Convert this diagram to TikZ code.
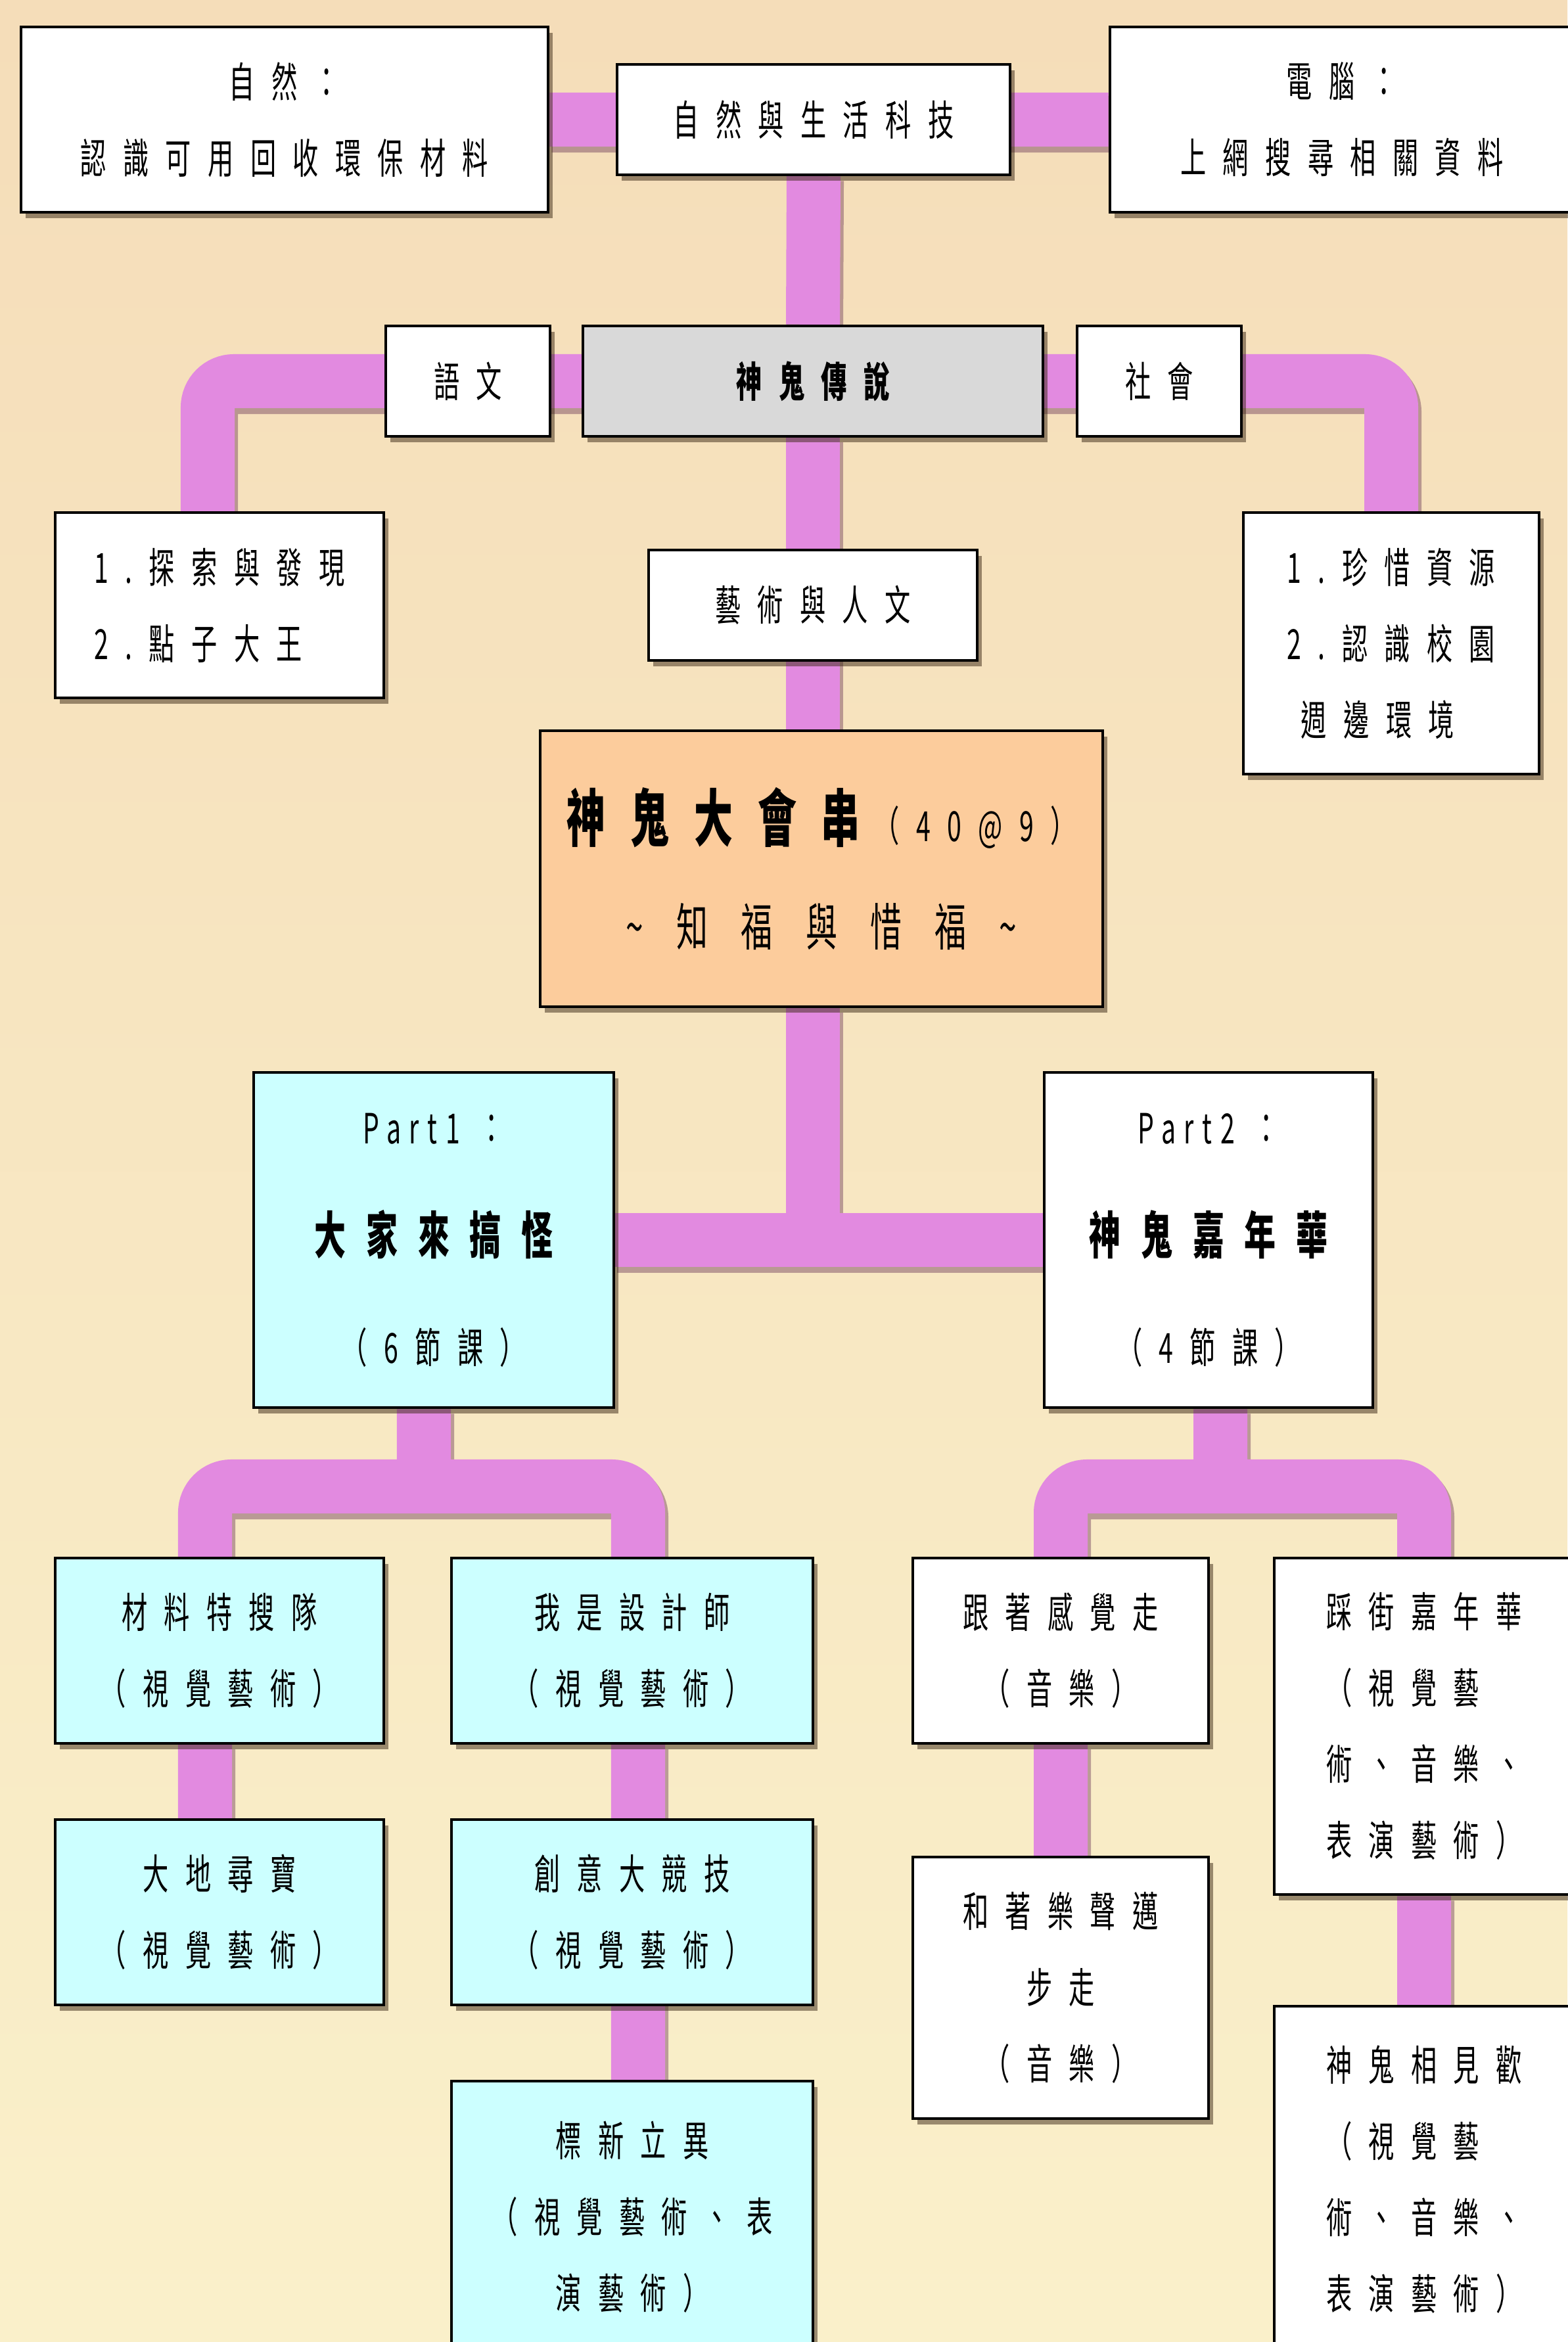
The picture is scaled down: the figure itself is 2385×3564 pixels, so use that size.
\documentclass[tikz,border=0pt]{standalone}
\usepackage{fontspec}
\newfontfamily\cjk[FakeStretch=0.62,LetterSpace=40]{Noto Sans CJK TC}
\usetikzlibrary{shadows}

\pgfdeclarelayer{back}
\pgfdeclarelayer{pipes}
\pgfsetlayers{back,pipes,main}

\definecolor{pipepink}{RGB}{226,138,224}
\definecolor{pipeedge}{RGB}{110,60,90}
\definecolor{boxcyan}{RGB}{204,255,255}
\definecolor{boxpeach}{RGB}{252,204,156}
\definecolor{boxgray}{RGB}{217,217,217}
\definecolor{bgtop}{RGB}{245,221,185}
\definecolor{bgbottom}{RGB}{250,240,202}

\tikzset{
  box/.style 2 args={draw, line width=1.2pt, fill=white, inner sep=0pt,
    minimum width=#1, minimum height=#2, align=center,
    font=\cjk\fontsize{18}{33}\selectfont,
    drop shadow={shadow xshift=0.07cm, shadow yshift=-0.09cm,
      fill=black!70!brown, opacity=0.5}},
  pipe/.style={draw=pipepink, line width=0.82cm, rounded corners=0.4cm,
    preaction={draw=pipeedge, opacity=0.45, line width=0.86cm,
      transform canvas={xshift=0.03cm, yshift=-0.07cm}}},
}

\begin{document}
\begin{tikzpicture}[x=0.01cm, y=-0.01cm]
	\useasboundingbox (0,0) rectangle (2385,3564);
	\begin{pgfonlayer}{back}
		\shade [top color=bgtop, bottom color=bgbottom] (0,0) rectangle (2385,3564);
	\end{pgfonlayer}

	% top row
	\node [box={8.02cm}{2.82cm}] (ziran) at (433,182) {自然：\\認識可用回收環保材料};
	\node [box={5.98cm}{1.68cm}] (keji) at (1238,182) {自然與生活科技};
	\node [box={7.06cm}{2.82cm}] (diannao) at (2042,182) {電腦：\\上網搜尋相關資料};

	% second row
	\node [box={2.5cm}{1.68cm}] (yuwen) at (712,580) {語文};
	\node [box={7cm}{1.68cm}, fill=boxgray] (chuanshuo) at (1237,580) {\bfseries 神鬼傳說};
	\node [box={2.5cm}{1.68cm}] (shehui) at (1764,580) {社會};

	\node [box={5cm}{2.82cm}, align=left] (tansuo) at (334,921) {1.探索與發現\\2.點子大王};
	\node [box={5cm}{1.68cm}] (yishu) at (1237,921) {藝術與人文};
	\node [box={4.5cm}{3.98cm}, align=left] (zhenxi) at (2117,979) {1.珍惜資源\\2.認識校園\\\hspace{6pt}週邊環境};

	% theme
	\node [box={8.55cm}{4.2cm}, fill=boxpeach] (main) at (1250,1322)
		{{\fontsize{27}{46}\selectfont\bfseries 神鬼大會串}\hspace{6pt}（40@9）\\[12pt]
		 {\fontsize{22}{40}\selectfont\addfontfeature{LetterSpace=65}\textasciitilde 知福與惜福\textasciitilde}};

	% parts
	\node [box={5.47cm}{5.1cm}, fill=boxcyan] (part1) at (660,1887)
		{{\addfontfeature{LetterSpace=20}Part1}\hspace{8pt}：\\[15pt]{\fontsize{22}{40}\selectfont\bfseries 大家來搞怪}\\[14pt]（6節課）};
	\node [box={5cm}{5.1cm}] (part2) at (1839,1887)
		{{\addfontfeature{LetterSpace=20}Part2}\hspace{8pt}：\\[15pt]{\fontsize{22}{40}\selectfont\bfseries 神鬼嘉年華}\\[14pt]（4節課）};

	% part 1 lessons
	\node [box={5cm}{2.82cm}, fill=boxcyan] (cailiao) at (334,2512) {材料特搜隊\\（視覺藝術）};
	\node [box={5.5cm}{2.82cm}, fill=boxcyan] (sheji) at (962,2512) {我是設計師\\（視覺藝術）};
	\node [box={5cm}{2.82cm}, fill=boxcyan] (dadi) at (334,2910) {大地尋寶\\（視覺藝術）};
	\node [box={5.5cm}{2.82cm}, fill=boxcyan] (chuangyi) at (962,2910) {創意大競技\\（視覺藝術）};
	\node [box={5.5cm}{4.14cm}, fill=boxcyan] (biaoxin) at (962,3374) {標新立異\\（視覺藝術、表\\演藝術）};

	% part 2 lessons
	\node [box={4.5cm}{2.82cm}] (ganjue) at (1614,2512) {跟著感覺走\\（音樂）};
	\node [box={4.5cm}{3.98cm}] (mabu) at (1614,3025) {和著樂聲邁\\步走\\（音樂）};
	\node [box={4.56cm}{5.12cm}, align=left] (caijie) at (2167,2627) {踩街嘉年華\\（視覺藝\\術、音樂、\\表演藝術）};
	\node [box={4.56cm}{5.28cm}, align=left] (xianjian) at (2167,3317) {神鬼相見歡\\（視覺藝\\術、音樂、\\表演藝術）};

	\coordinate (lbar) at (645,2262);
	\coordinate (rbar) at (1857,2262);

	\begin{pgfonlayer}{pipes}
		\draw [pipe] (ziran.east) -- (diannao.west) (keji.south) -- (chuanshuo.north);
		\draw [pipe] ([xshift=-0.18cm]tansuo.north) |- (yuwen.west) -- (shehui.east) -| (zhenxi.north);
		\draw [pipe] (chuanshuo.south) -- (chuanshuo.south |- main.north)
			(chuanshuo.south |- main.south) -- (chuanshuo.south |- part1.east)
			(part1.east) -- (part2.west);
		\draw [pipe] ([xshift=-0.22cm]cailiao.north) |- (lbar) -| ([xshift=0.09cm]sheji.north)
			(lbar) -- (lbar |- part1.south)
			([xshift=-0.22cm]cailiao.south) -- ([xshift=-0.22cm]dadi.north)
			([xshift=0.09cm]sheji.south) -- ([xshift=0.09cm]biaoxin.north);
		\draw [pipe] (ganjue.north) |- (rbar) -| (caijie.north)
			(rbar) -- (rbar |- part2.south)
			(ganjue.south) -- (mabu.north)
			(caijie.south) -- (xianjian.north);
	\end{pgfonlayer}
\end{tikzpicture}
\end{document}
